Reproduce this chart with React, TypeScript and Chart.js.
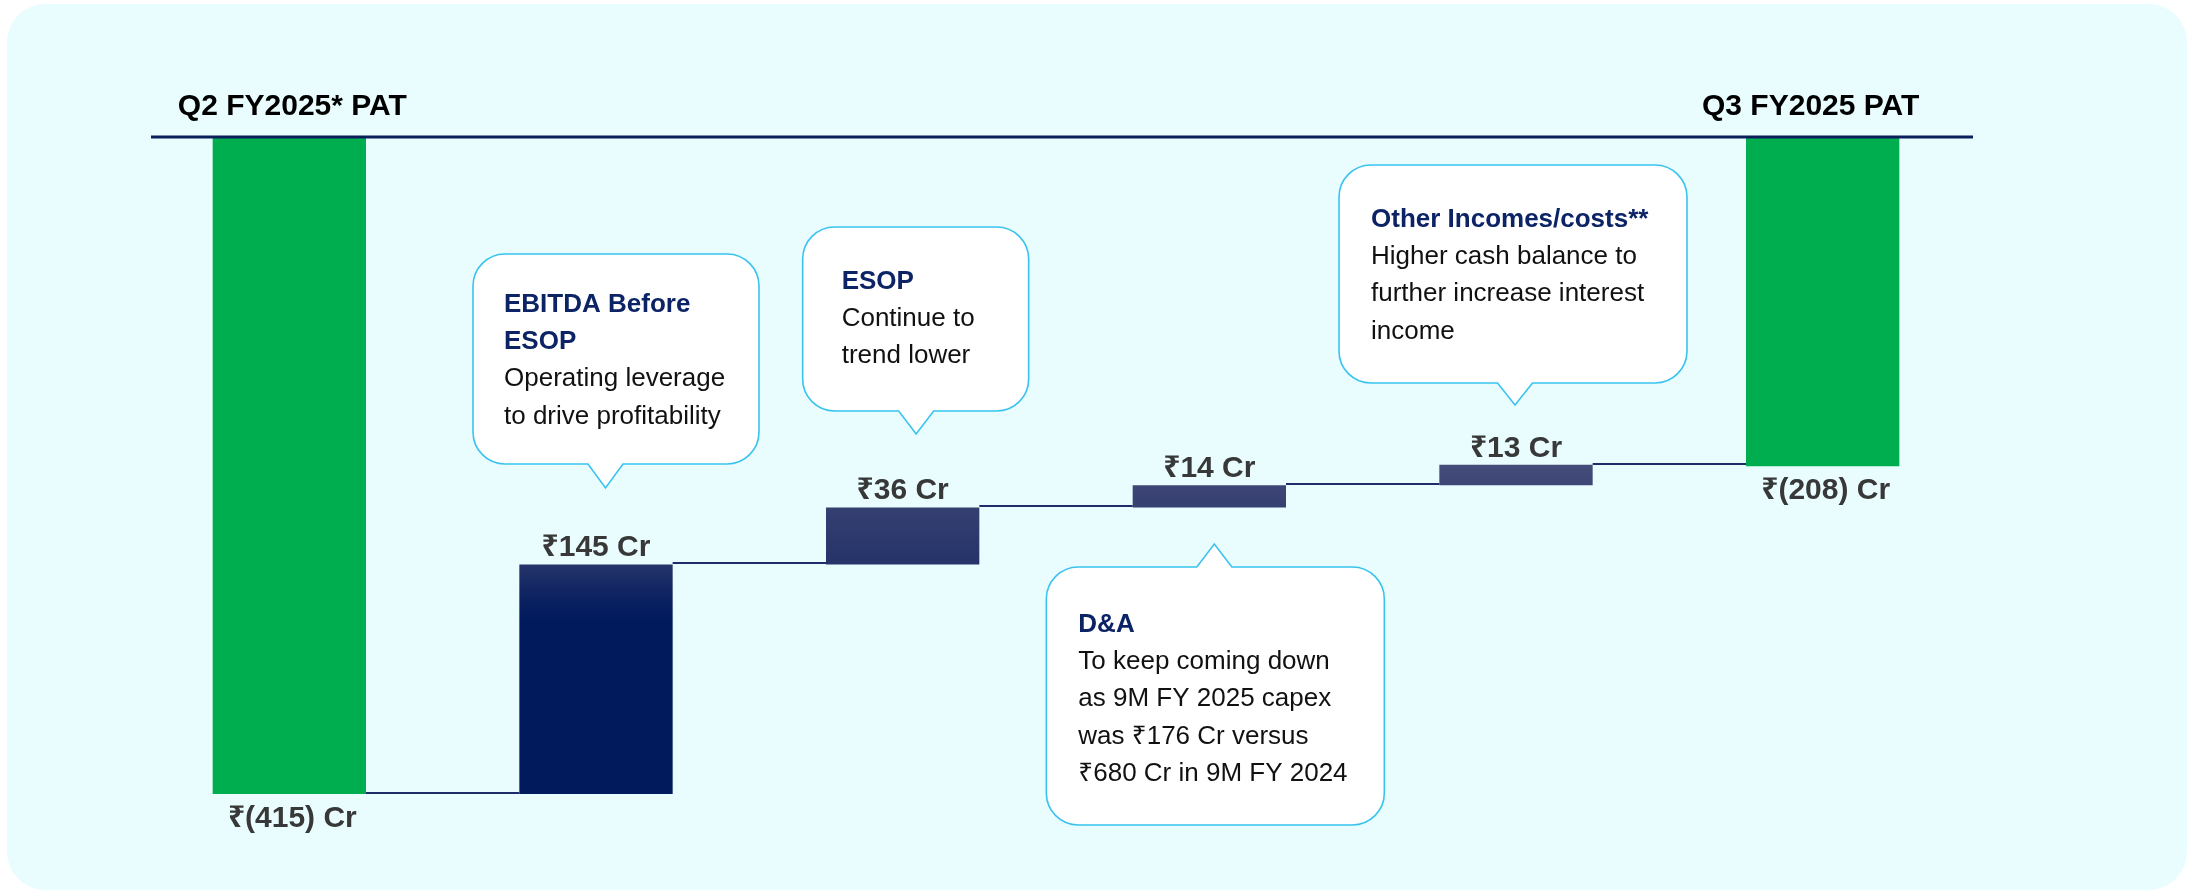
import React, { useEffect, useRef } from 'react';
import { Chart, registerables } from 'chart.js';

Chart.register(...registerables);

// ---------- data ----------
const categories = ['Q2 FY2025* PAT', 'EBITDA Before ESOP', 'ESOP', 'D&A', 'Other Incomes/costs**', 'Q3 FY2025 PAT'];
const startPAT = -415;
const changes = [145, 36, 14, 13];
const endPAT = -208;
const valueLabels = ['₹(415) Cr', '₹145 Cr', '₹36 Cr', '₹14 Cr', '₹13 Cr', '₹(208) Cr'];
const endTitles = ['Q2 FY2025* PAT', 'Q3 FY2025 PAT'];
const calloutHeadings = [['EBITDA Before', 'ESOP'], ['ESOP'], ['D&A'], ['Other Incomes/costs**']];
const calloutBodies = [
  ['Operating leverage', 'to drive profitability'],
  ['Continue to', 'trend lower'],
  ['To keep coming down', 'as 9M FY 2025 capex', 'was ₹176 Cr versus', '₹680 Cr in 9M FY 2024'],
  ['Higher cash balance to', 'further increase interest', 'income'],
];

// floating ranges built from the values
const ranges: [number, number][] = [];
ranges.push([startPAT, 0]);
let running = startPAT;
changes.forEach((c) => {
  ranges.push([running, running + c]);
  running += c;
});
ranges.push([endPAT, 0]);

// ---------- styles / layout ----------
const FONT = '"Liberation Sans", Arial, "Noto Sans", "DejaVu Sans", sans-serif';
const GREEN = '#00AE4F';
const LINE_NAVY = '#0B1F5C';
const CONNECT = '#1E2C6A';
const LABEL_GREY = '#383838';
const HEAD_NAVY = '#0C2466';
const BODY_BLACK = '#111111';
const BUBBLE_BORDER = '#38C3EF';

const calloutLayout = [
  { bar: 1, dx: -123, top: 254, w: 286, h: 210, pdx: 9.5, tipY: 488, up: false, padX: 31, firstBase: 312 },
  { bar: 2, dx: -100, top: 227, w: 226, h: 184, pdx: 13.5, tipY: 434, up: false, padX: 39, firstBase: 289 },
  { bar: 3, dx: -163, top: 567, w: 338, h: 258, pdx: 5, tipY: 544, up: true, padX: 32, firstBase: 632 },
  { bar: 4, dx: -177, top: 165, w: 348, h: 218, pdx: -1, tipY: 405, up: false, padX: 32, firstBase: 227 },
];

function bubblePath(c: CanvasRenderingContext2D, x: number, y: number, w: number, h: number, r: number,
  px: number, hb: number, tipY: number, up: boolean) {
  c.beginPath();
  c.moveTo(x + r, y);
  if (up) {
    c.lineTo(px - hb, y);
    c.lineTo(px, tipY);
    c.lineTo(px + hb, y);
  }
  c.lineTo(x + w - r, y);
  c.arcTo(x + w, y, x + w, y + r, r);
  c.lineTo(x + w, y + h - r);
  c.arcTo(x + w, y + h, x + w - r, y + h, r);
  if (!up) {
    c.lineTo(px + hb, y + h);
    c.lineTo(px, tipY);
    c.lineTo(px - hb, y + h);
  }
  c.lineTo(x + r, y + h);
  c.arcTo(x, y + h, x, y + h - r, r);
  c.lineTo(x, y + r);
  c.arcTo(x, y, x + r, y, r);
  c.closePath();
}

const overlayPlugin = {
  id: 'waterfallOverlay',
  afterDatasetsDraw(chart: any) {
    const c: CanvasRenderingContext2D = chart.ctx;
    const yS = chart.scales.y;
    const area = chart.chartArea;
    const bars = chart.getDatasetMeta(0).data;
    c.save();

    // top reference line at zero
    const y0 = yS.getPixelForValue(0);
    c.strokeStyle = LINE_NAVY;
    c.lineWidth = 3;
    c.beginPath();
    c.moveTo(area.left + 15, y0);
    c.lineTo(area.right - 3, y0);
    c.stroke();

    // connectors
    c.strokeStyle = CONNECT;
    c.lineWidth = 2;
    for (let i = 0; i < bars.length - 1; i++) {
      const level = i === 0 ? ranges[0][0] : ranges[i][1];
      const y = Math.round(yS.getPixelForValue(level)) - 1;
      const b1 = bars[i];
      const b2 = bars[i + 1];
      c.beginPath();
      c.moveTo(b1.x + b1.width / 2, y);
      c.lineTo(b2.x - b2.width / 2, y);
      c.stroke();
    }

    // end titles
    c.fillStyle = '#000000';
    c.font = `bold 30px ${FONT}`;
    c.textAlign = 'center';
    c.textBaseline = 'alphabetic';
    c.fillText(endTitles[0], bars[0].x + 3, 115);
    c.fillText(endTitles[1], bars[bars.length - 1].x - 12, 115);

    // value labels
    c.fillStyle = LABEL_GREY;
    c.font = `bold 30px ${FONT}`;
    bars.forEach((b: any, i: number) => {
      const isEnd = i === 0 || i === bars.length - 1;
      if (isEnd) {
        const yb = yS.getPixelForValue(ranges[i][0]);
        c.fillText(valueLabels[i], b.x + 3, yb + 33);
      } else {
        const yt = yS.getPixelForValue(ranges[i][1]);
        c.fillText(valueLabels[i], b.x, yt - 8);
      }
    });

    // callouts
    calloutLayout.forEach((L, k) => {
      const bx = bars[L.bar].x;
      const x = bx + L.dx;
      const px = bx + L.pdx;
      bubblePath(c, x, L.top, L.w, L.h, 32, px, 17.5, L.tipY, L.up);
      c.fillStyle = '#FFFFFF';
      c.fill();
      c.strokeStyle = BUBBLE_BORDER;
      c.lineWidth = 1.6;
      c.stroke();
      c.textAlign = 'left';
      let yy = L.firstBase;
      c.font = `bold 26px ${FONT}`;
      c.fillStyle = HEAD_NAVY;
      calloutHeadings[k].forEach((t) => {
        c.fillText(t, x + L.padX, yy);
        yy += 37.2;
      });
      c.font = `26px ${FONT}`;
      c.fillStyle = BODY_BLACK;
      calloutBodies[k].forEach((t) => {
        c.fillText(t, x + L.padX, yy);
        yy += 37.2;
      });
    });

    c.restore();
  },
};

export default function App() {
  const ref = useRef<HTMLCanvasElement | null>(null);

  useEffect(() => {
    if (!ref.current) return;
    const chart = new Chart(ref.current, {
      type: 'bar',
      data: {
        labels: categories,
        datasets: [
          {
            data: ranges as any,
            backgroundColor: (ctx: any) => {
              const i = ctx.dataIndex;
              if (i === 0 || i === ranges.length - 1) return GREEN;
              const chartObj = ctx.chart;
              const yS = chartObj.scales.y;
              if (!chartObj.chartArea || !yS) return '#1B2A66';
              const g = chartObj.ctx.createLinearGradient(0, yS.getPixelForValue(-207), 0, yS.getPixelForValue(-306));
              g.addColorStop(0, '#444C79');
              g.addColorStop(0.28, '#353F70');
              g.addColorStop(0.64, '#25336A');
              g.addColorStop(0.86, '#0B2160');
              g.addColorStop(1, '#001A5C');
              return g;
            },
            borderWidth: 0,
            barPercentage: 0.5,
            categoryPercentage: 1.0,
          },
        ],
      },
      options: {
        responsive: false,
        animation: false,
        maintainAspectRatio: false,
        layout: { padding: { left: 136, right: 220, top: 137, bottom: 100 } },
        plugins: {
          legend: { display: false },
          tooltip: { enabled: false },
        },
        scales: {
          x: { display: false, offset: true, grid: { display: false } },
          y: { display: false, min: startPAT, max: 0, grid: { display: false } },
        },
      },
      plugins: [overlayPlugin],
    });
    return () => chart.destroy();
  }, []);

  return (
    <div style={{ position: 'fixed', left: 0, top: 0, width: 2196, height: 894, background: '#FFFFFF', overflow: 'hidden' }}>
      <div
        style={{
          position: 'absolute',
          left: 7,
          top: 4,
          width: 2180,
          height: 886,
          borderRadius: 38,
          background: '#E9FDFF',
        }}
      />
      <canvas
        ref={ref}
        width={2196}
        height={894}
        style={{ position: 'absolute', left: 0, top: 0, width: 2196, height: 894 }}
      />
    </div>
  );
}
